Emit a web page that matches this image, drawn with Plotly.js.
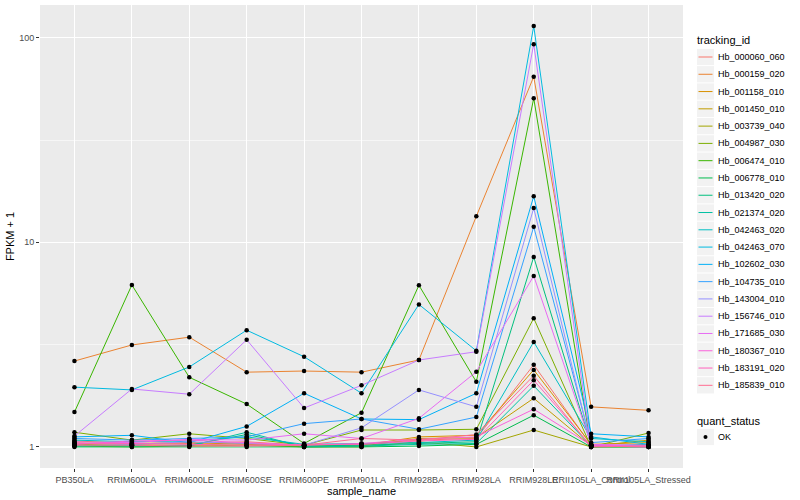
<!DOCTYPE html>
<html>
<head>
<meta charset="utf-8">
<script src="https://cdn.plot.ly/plotly-3.0.1.min.js"></script>
<style>html,body{margin:0;padding:0;background:#fff;}#chart{width:800px;height:500px;}</style>
</head>
<body>
<div id="chart"></div>
<script>
// ---- data ----
const samples = ["PB350LA","RRIM600LA","RRIM600LE","RRIM600SE","RRIM600PE","RRIM901LA","RRIM928BA","RRIM928LA","RRIM928LE","RRII105LA_Control","RRII105LA_Stressed"];
const trackingIds = ["Hb_000060_060","Hb_000159_020","Hb_001158_010","Hb_001450_010","Hb_003739_040","Hb_004987_030","Hb_006474_010","Hb_006778_010","Hb_013420_020","Hb_021374_020","Hb_042463_020","Hb_042463_070","Hb_102602_030","Hb_104735_010","Hb_143004_010","Hb_156746_010","Hb_171685_030","Hb_180367_010","Hb_183191_020","Hb_185839_010"];
const Hb_000060_060 = [1.05,1.03,1.04,1.06,1.02,1.03,1.08,1.10,2.52,1.02,1.01];
const Hb_000159_020 = [2.63,3.15,3.44,2.32,2.35,2.32,2.66,13.4,64.5,1.57,1.51];
const Hb_001158_010 = [1.07,1.04,1.05,1.03,1.01,1.02,1.12,1.14,2.38,1.03,1.05];
const Hb_001450_010 = [1.03,1.02,1.02,1.04,1.00,1.01,1.10,1.11,1.73,1.01,1.08];
const Hb_003739_040 = [1.01,1.00,1.01,1.02,1.00,1.00,1.06,1.00,1.21,1.00,1.02];
const Hb_004987_030 = [1.18,1.08,1.16,1.10,1.02,1.21,1.21,1.22,4.26,1.00,1.17];
const Hb_006474_010 = [1.48,6.19,2.19,1.62,1.04,1.47,6.17,2.08,50.6,1.00,1.00];
const Hb_006778_010 = [1.00,1.00,1.00,1.00,1.00,1.00,1.01,1.03,1.43,1.00,1.00];
const Hb_013420_020 = [1.02,1.01,1.02,1.15,1.01,1.02,1.04,1.06,8.48,1.02,1.01];
const Hb_021374_020 = [1.01,1.02,1.01,1.18,1.00,1.01,1.03,1.04,1.99,1.01,1.03];
const Hb_042463_020 = [1.08,1.06,1.07,1.12,1.03,1.04,1.05,1.08,3.26,1.10,1.06];
const Hb_042463_070 = [1.96,1.90,2.46,3.72,2.76,1.83,4.97,2.95,114,1.12,1.03];
const Hb_102602_030 = [1.12,1.14,1.05,1.26,1.83,1.37,1.36,1.83,16.8,1.16,1.12];
const Hb_104735_010 = [1.10,1.08,1.10,1.12,1.30,1.37,1.22,1.40,11.9,1.05,1.10];
const Hb_143004_010 = [1.04,1.03,1.06,1.04,1.02,1.24,1.90,1.57,14.7,1.02,1.01];
const Hb_156746_010 = [1.13,1.92,1.81,3.34,1.55,2.00,2.66,2.92,93,1.01,1.00];
const Hb_171685_030 = [1.06,1.05,1.09,1.08,1.16,1.10,1.38,2.33,6.85,1.03,1.02];
const Hb_180367_010 = [1.03,1.07,1.08,1.05,1.02,1.04,1.09,1.12,1.53,1.02,1.01];
const Hb_183191_020 = [1.04,1.04,1.03,1.02,1.03,1.03,1.07,1.09,2.12,1.01,1.00];
const Hb_185839_010 = [1.02,1.02,1.01,1.01,1.02,1.10,1.08,1.15,2.23,1.00,1.01];
const quantStatus = ["OK"];
const yTickVals = [1, 10, 100];
const yTickText = ["1", "10", "100"];

const seriesValues = [Hb_000060_060,Hb_000159_020,Hb_001158_010,Hb_001450_010,Hb_003739_040,Hb_004987_030,Hb_006474_010,Hb_006778_010,Hb_013420_020,Hb_021374_020,Hb_042463_020,Hb_042463_070,Hb_102602_030,Hb_104735_010,Hb_143004_010,Hb_156746_010,Hb_171685_030,Hb_180367_010,Hb_183191_020,Hb_185839_010];

// ggplot2 hue palette for 20 levels
const palette = ["#F8766D","#EA8331","#D89000","#C09B00","#A3A500","#7CAE00","#39B600","#00BB4E","#00BF7D","#00C1A3","#00BFC4","#00BAE0","#00B0F6","#35A2FF","#9590FF","#C77CFF","#E76BF3","#FA62DB","#FF62BC","#FF6C91"];

const FONT = "Liberation Sans, Arial, Helvetica, sans-serif";
const W = 800, H = 500;
const M = {l: 40, r: 117, t: 5, b: 32};
const PW = W - M.l - M.r, PH = H - M.t - M.b;
const px2x = px => (px - M.l) / PW;
const px2y = py => (H - M.b - py) / PH;

const traces = trackingIds.map((id, i) => ({
  type: "scatter",
  mode: "lines",
  name: id,
  x: samples,
  y: seriesValues[i],
  line: {color: palette[i], width: 1},
  showlegend: false
}));

const allX = [], allY = [];
seriesValues.forEach(v => v.forEach((val, j) => { allX.push(samples[j]); allY.push(val); }));
traces.push({
  type: "scatter",
  mode: "markers",
  name: quantStatus[0],
  x: allX,
  y: allY,
  marker: {color: "#000", size: 4.5},
  showlegend: false
});

const logs = allY.map(v => Math.log10(v));
const lmin = Math.min(...logs), lmax = Math.max(...logs);
const pad = (lmax - lmin) * 0.05;

// ---- ggplot-style legend built from the arrays ----
const shapes = [], annotations = [];
const keyL = 697, keyR = 714, keyH = 17.28, firstKeyCenter = 57;
annotations.push({xref: "paper", yref: "paper", x: px2x(695), y: px2y(40), xanchor: "left", yanchor: "middle",
  text: "tracking_id", showarrow: false, font: {family: FONT, size: 11, color: "#000"}});
trackingIds.forEach((id, i) => {
  const cy = firstKeyCenter + i * keyH;
  shapes.push({type: "rect", xref: "paper", yref: "paper", x0: px2x(keyL), x1: px2x(keyR),
    y0: px2y(cy - keyH / 2 + 0.5), y1: px2y(cy + keyH / 2 - 0.5), fillcolor: "#F2F2F2", line: {width: 0}, layer: "above"});
  shapes.push({type: "line", xref: "paper", yref: "paper", x0: px2x(keyL + 1.5), x1: px2x(keyR - 1.5),
    y0: px2y(cy), y1: px2y(cy), line: {color: palette[i], width: 1}, layer: "above"});
  annotations.push({xref: "paper", yref: "paper", x: px2x(716), y: px2y(cy), xanchor: "left", yanchor: "middle",
    text: id, showarrow: false, font: {family: FONT, size: 9, color: "#000"}});
});
const qTitleY = 421, qKeyY = 437;
annotations.push({xref: "paper", yref: "paper", x: px2x(695), y: px2y(qTitleY), xanchor: "left", yanchor: "middle",
  text: "quant_status", showarrow: false, font: {family: FONT, size: 11, color: "#000"}});
quantStatus.forEach((q, i) => {
  const cy = qKeyY + i * keyH;
  shapes.push({type: "rect", xref: "paper", yref: "paper", x0: px2x(keyL), x1: px2x(keyR),
    y0: px2y(cy - keyH / 2 + 0.5), y1: px2y(cy + keyH / 2 - 0.5), fillcolor: "#F2F2F2", line: {width: 0}, layer: "above"});
  const cx = (keyL + keyR) / 2;
  shapes.push({type: "circle", xref: "paper", yref: "paper", x0: px2x(cx - 2), x1: px2x(cx + 2),
    y0: px2y(cy + 2), y1: px2y(cy - 2), fillcolor: "#000", line: {width: 0}, layer: "above"});
  annotations.push({xref: "paper", yref: "paper", x: px2x(716), y: px2y(cy), xanchor: "left", yanchor: "middle",
    text: q, showarrow: false, font: {family: FONT, size: 9, color: "#000"}});
});

const layout = {
  width: W, height: H,
  margin: M,
  paper_bgcolor: "#FFFFFF",
  plot_bgcolor: "#EBEBEB",
  font: {family: FONT, size: 9, color: "#4D4D4D"},
  showlegend: false,
  xaxis: {
    type: "category",
    categoryorder: "array",
    categoryarray: samples,
    range: [-0.6, samples.length - 1 + 0.6],
    showgrid: true, gridcolor: "#FFFFFF", gridwidth: 1.1,
    zeroline: false, showline: false,
    ticks: "outside", ticklen: 3, tickcolor: "#333333", tickwidth: 1,
    tickangle: 0,
    tickfont: {family: FONT, size: 9, color: "#4D4D4D"},
    title: {text: "sample_name", font: {family: FONT, size: 11, color: "#000"}, standoff: 0},
    fixedrange: true
  },
  yaxis: {
    type: "log",
    range: [lmin - pad, lmax + pad],
    tickmode: "array",
    tickvals: yTickVals,
    ticktext: yTickText,
    showgrid: true, gridcolor: "#FFFFFF", gridwidth: 1.1,
    minor: {tickmode: "array", tickvals: [Math.sqrt(10), Math.sqrt(1000)], showgrid: true, gridcolor: "#FFFFFF", gridwidth: 0.55, ticks: ""},
    zeroline: false, showline: false,
    ticks: "outside", ticklen: 3, tickcolor: "#333333", tickwidth: 1,
    tickfont: {family: FONT, size: 9, color: "#4D4D4D"},
    title: {text: "FPKM + 1", font: {family: FONT, size: 11, color: "#000"}, standoff: 2},
    fixedrange: true
  },
  shapes: shapes,
  annotations: annotations
};

Plotly.newPlot("chart", traces, layout, {staticPlot: true, displayModeBar: false});
</script>
</body>
</html>
